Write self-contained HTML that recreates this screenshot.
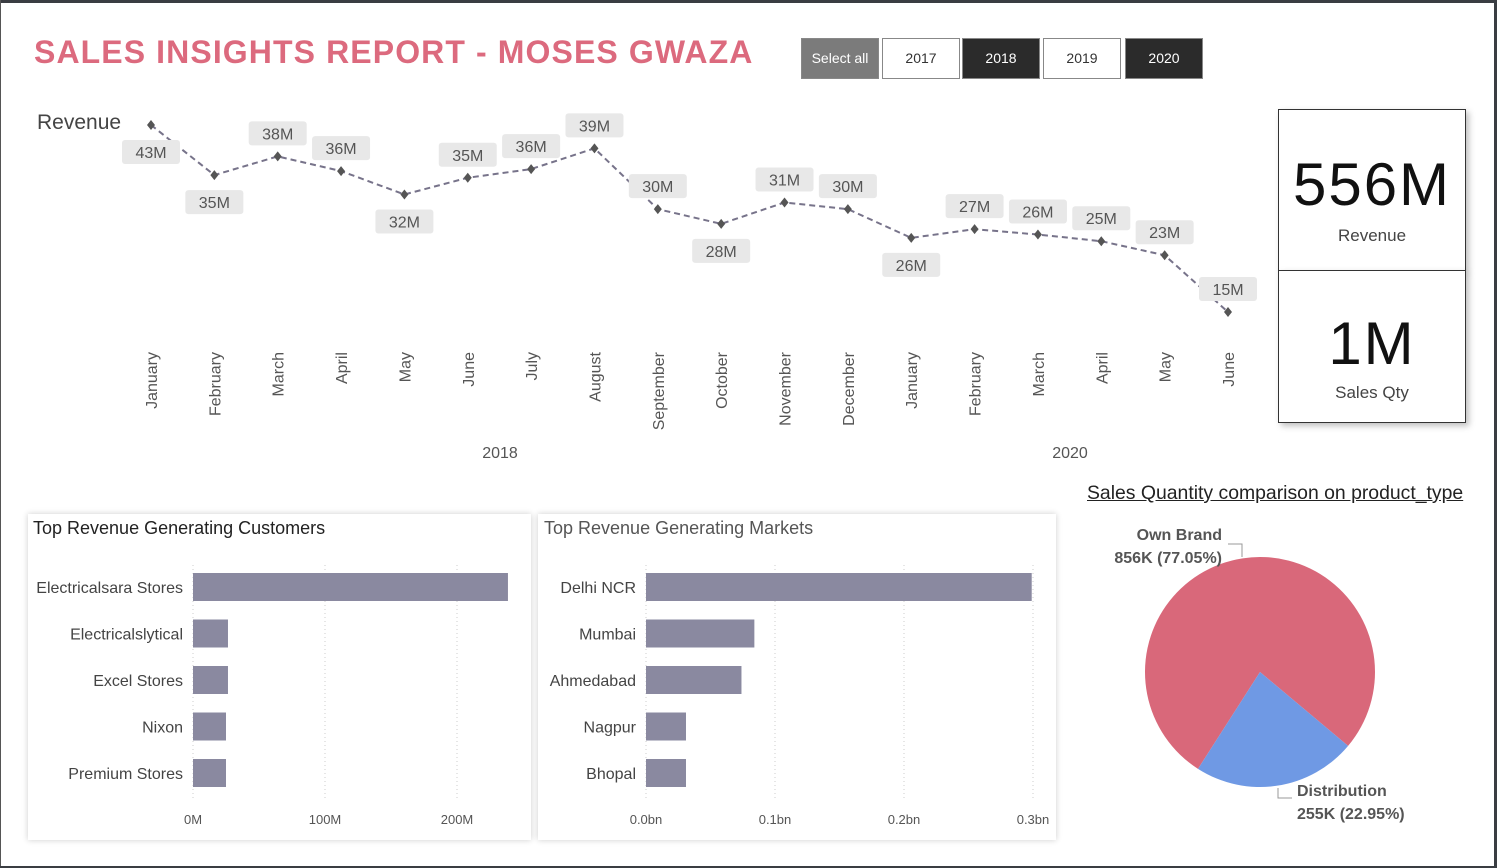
<!DOCTYPE html>
<html><head><meta charset="utf-8"><style>
body{margin:0;width:1497px;height:868px;overflow:hidden;background:#fff;font-family:"Liberation Sans","DejaVu Sans",sans-serif;position:relative}
.abs{position:absolute}
.btn{position:absolute;top:38px;height:41px;width:78px;box-sizing:border-box;border:1px solid #888;font-size:14px;line-height:39px;text-align:center}
.kpi{position:absolute;left:1278px;width:188px;box-sizing:border-box;border:1px solid #333;background:#fff;text-align:center;box-shadow:3px 3px 6px rgba(0,0,0,.25)}
.panel{position:absolute;background:#fff;box-shadow:0 0 6px rgba(0,0,0,.2)}
</style></head><body>
<div class="abs" style="left:0;top:0;width:1497px;height:3px;background:#3a3d42"></div>
<div class="abs" style="right:0;top:0;width:3px;height:868px;background:#3a3d42"></div>
<div class="abs" style="left:0;top:0;width:1px;height:868px;background:#555"></div>
<div class="abs" style="left:0;bottom:0;width:1497px;height:2px;background:#3a3d42"></div>
<div class="abs" style="left:34px;top:34px;font-size:32px;font-weight:bold;color:#dc6a7e;letter-spacing:1.1px">SALES INSIGHTS REPORT - MOSES GWAZA</div>
<div class="btn" style="left:801px;background:#7b7b7b;color:#fff">Select all</div>
<div class="btn" style="left:882px;background:#fff;color:#333">2017</div>
<div class="btn" style="left:962px;background:#2b2b2b;color:#fff">2018</div>
<div class="btn" style="left:1043px;background:#fff;color:#333">2019</div>
<div class="btn" style="left:1125px;background:#2b2b2b;color:#fff">2020</div>

<svg class="abs" style="left:0;top:0" width="1497" height="868" id="line"></svg>

<div class="kpi" style="top:109px;height:162px">
<div style="font-size:60px;margin-top:42px;letter-spacing:2px;color:#111;line-height:66px">556M</div>
<div style="font-size:17px;color:#444;margin-top:8px">Revenue</div></div>
<div class="kpi" style="top:270px;height:153px">
<div style="font-size:60px;margin-top:40px;letter-spacing:2px;color:#111;line-height:66px">1M</div>
<div style="font-size:17px;color:#444;margin-top:6px">Sales Qty</div></div>

<div class="panel" style="left:28px;top:514px;width:503px;height:326px"></div>
<div class="panel" style="left:538px;top:514px;width:518px;height:326px"></div>
<div class="abs" style="left:33px;top:518px;font-size:18px;color:#222">Top Revenue Generating Customers</div>
<div class="abs" style="left:544px;top:518px;font-size:18px;color:#555">Top Revenue Generating Markets</div>
<div class="abs" style="left:1087px;top:482px;font-size:19.4px;color:#222;text-decoration:underline">Sales Quantity comparison on product_type</div>
<svg class="abs" style="left:0;top:0;pointer-events:none" width="1497" height="868" id="bars"></svg>

<script>
const NS="http://www.w3.org/2000/svg";
function mk(p,t,a){const e=document.createElementNS(NS,t);for(const k in a)e.setAttribute(k,a[k]);p.appendChild(e);return e;}
const months=["January","February","March","April","May","June","July","August","September","October","November","December","January","February","March","April","May","June"];
const revenue=[42.8,35.3,38.1,35.9,32.4,34.9,36.2,39.3,30.2,28.0,31.2,30.2,25.9,27.2,26.4,25.4,23.3,14.8];
const years=["2018","2020"];
const labelSide=[-1,-1,1,1,-1,1,1,1,1,-1,1,1,-1,1,1,1,1,1];
const line=document.getElementById('line');
const xL=i=>151+i*(1228-151)/(months.length-1);
const yL=v=>125+(42.8-v)*(312-125)/(42.8-14.8);
mk(line,'text',{x:37,y:129,'font-size':21,fill:'#444'}).textContent='Revenue';
let pts=revenue.map((v,i)=>xL(i)+','+yL(v)).join(' ');
const pl=mk(line,'polyline',{points:pts,fill:'none',stroke:'#77738a','stroke-width':2,'stroke-dasharray':'6,4'});


revenue.forEach((v,i)=>{
  const x=xL(i),y=yL(v);
  const d=mk(line,'path',{d:`M${x} ${y-5}L${x+4} ${y}L${x} ${y+5}L${x-4} ${y}Z`,fill:'#555'});
  
  
  const ly=labelSide[i]>0?y-23:y+27;
  const lx=x;
  const g=mk(line,'g',{});
  
  
  mk(g,'rect',{x:lx-29,y:ly-12,width:58,height:24,rx:3,fill:'#e8e8e8'});
  mk(g,'text',{x:lx,y:ly+6,'font-size':16,fill:'#555','text-anchor':'middle'}).textContent=Math.round(v)+'M';
  const t=mk(line,'text',{x:0,y:0,'font-size':16,fill:'#555','text-anchor':'end',transform:`translate(${x+6},352) rotate(-90)`});
  t.textContent=months[i];
  
  
});
years.forEach((y,j)=>{const t=mk(line,'text',{x:j==0?500:1070,y:458,'font-size':16,fill:'#555','text-anchor':'middle'});t.textContent=y;

});

const customers=["Electricalsara Stores","Electricalslytical","Excel Stores","Nixon","Premium Stores"];
const custRevenue=[238.6,26.5,26.5,25,25];
const custTicks=[0,100,200];
const custTickLabels=["0M","100M","200M"];
const markets=["Delhi NCR","Mumbai","Ahmedabad","Nagpur","Bhopal"];
const marketRevenue=[0.299,0.084,0.074,0.031,0.031];
const marketTicks=[0,0.1,0.2,0.3];
const marketTickLabels=["0.0bn","0.1bn","0.2bn","0.3bn"];
const bars=document.getElementById('bars');
function barChart(cats,vals,ticks,tlabels,x0,pxPer,name){
  ticks.forEach((t,i)=>{const x=x0+t*pxPer;
    mk(bars,'line',{x1:x,x2:x,y1:565,y2:800,stroke:'#ccc','stroke-dasharray':'1,3'});
    const tx=mk(bars,'text',{x:x,y:824,'font-size':13,fill:'#555','text-anchor':'middle'});tx.textContent=tlabels[i];
    
    });
  cats.forEach((c,i)=>{const yc=587+i*46.5;
    const r=mk(bars,'rect',{x:x0,y:yc-14,width:vals[i]*pxPer,height:28,fill:'#8a89a0'});
    
    
    const t=mk(bars,'text',{x:x0-10,y:yc+6,'font-size':16,fill:'#444','text-anchor':'end'});t.textContent=c;
    
    });
}
barChart(customers,custRevenue,custTicks,custTickLabels,193,1.32,'customer');
barChart(markets,marketRevenue,marketTicks,marketTickLabels,646,1290,'market');

const pieCats=["Own Brand","Distribution"];
const pieVals=[856,255];
const pieLabels=["856K (77.05%)","255K (22.95%)"];
const pieColors=["#d9687a","#6f99e4"];
const cx=1260,cy=672,R=115;
const tot=pieVals.reduce((a,b)=>a+b,0);
let a0=40+pieVals[1]/tot*360;
let start=[a0,40];
pieVals.forEach((v,i)=>{
  const s=start[i]*Math.PI/180,e=(start[i]+v/tot*360)*Math.PI/180;
  const large=v/tot>0.5?1:0;
  const p=mk(bars,'path',{d:`M${cx} ${cy}L${cx+R*Math.cos(s)} ${cy+R*Math.sin(s)}A${R} ${R} 0 ${large} 1 ${cx+R*Math.cos(e)} ${cy+R*Math.sin(e)}Z`,fill:pieColors[i]});
  
  
});
mk(bars,'polyline',{points:'1228,544 1242,544 1242,557',fill:'none',stroke:'#999'});
mk(bars,'polyline',{points:'1278,788 1278,798 1292,798',fill:'none',stroke:'#999'});
[[1222,540,'end',0],[1297,796,'start',1]].forEach(([x,y,anc,i])=>{
  const t1=mk(bars,'text',{x:x,y:y,'font-size':16,'font-weight':'bold',fill:'#555','text-anchor':anc});t1.textContent=pieCats[i];
  
  
  const t2=mk(bars,'text',{x:x,y:y+23,'font-size':16,'font-weight':'bold',fill:'#555','text-anchor':anc});t2.textContent=pieLabels[i];
  
  
});
</script>
</body></html>
